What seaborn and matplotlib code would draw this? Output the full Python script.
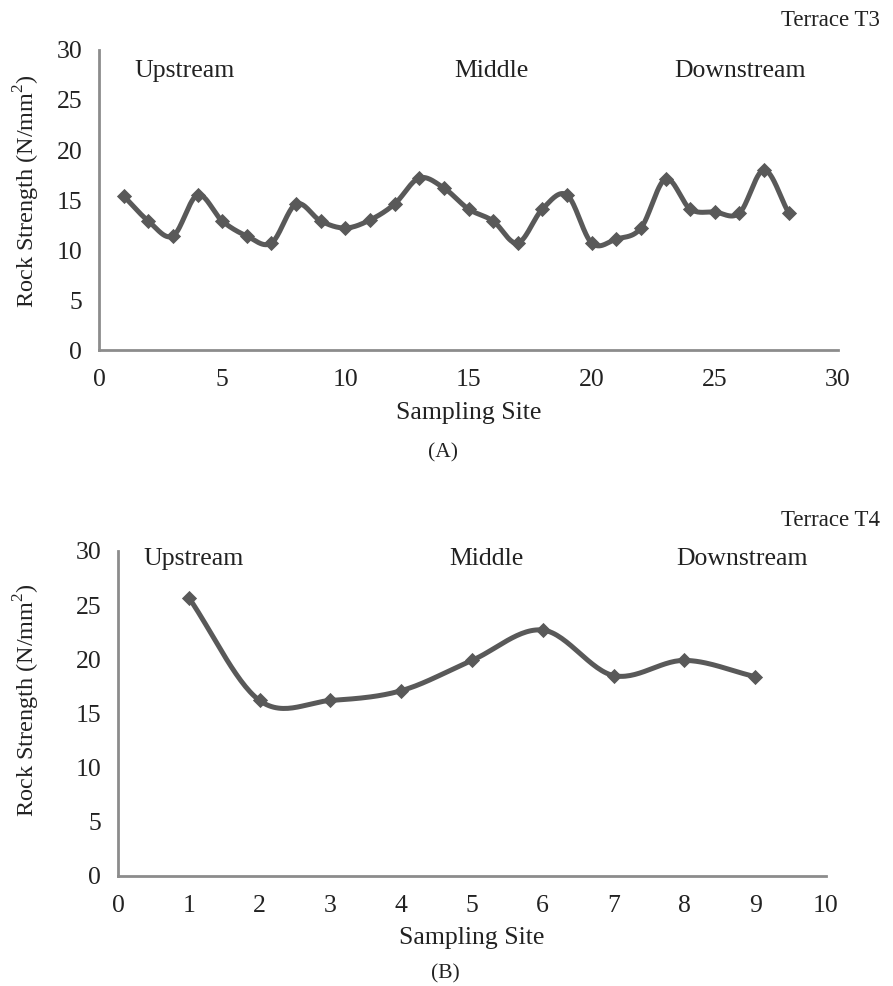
import matplotlib
matplotlib.use("Agg")
import matplotlib.pyplot as plt
import numpy as np
import seaborn as sns

# Terrace T3 (A)
t3_sites = list(range(1, 29))
t3_strength = [15.4, 12.9, 11.4, 15.5, 12.9, 11.4, 10.7, 14.6, 12.9, 12.2,
               13.0, 14.6, 17.2, 16.2, 14.1, 12.9, 10.7, 14.1, 15.5, 10.7,
               11.1, 12.2, 17.1, 14.1, 13.8, 13.7, 18.0, 13.7]

# Terrace T4 (B)
t4_sites = list(range(1, 10))
t4_strength = [25.7, 16.2, 16.2, 17.1, 19.9, 22.7, 18.5, 19.9, 18.4]

reach_labels = ["Upstream", "Middle", "Downstream"]

LINE = "#595959"
AXIS = "#8c8c8c"
TXT = "#222222"


def smooth(x, y, n=30):
    # excel-like smoothed line (catmull-rom through the points)
    x = np.asarray(x, float)
    y = np.asarray(y, float)
    px = np.concatenate([[2 * x[0] - x[1]], x, [2 * x[-1] - x[-2]]])
    py = np.concatenate([[2 * y[0] - y[1]], y, [2 * y[-1] - y[-2]]])
    xs, ys = [], []
    t = np.linspace(0, 1, n, endpoint=False)
    for i in range(1, len(px) - 2):
        for p, out in ((px, xs), (py, ys)):
            p0, p1, p2, p3 = p[i - 1], p[i], p[i + 1], p[i + 2]
            out.extend(0.5 * ((2 * p1) + (-p0 + p2) * t
                              + (2 * p0 - 5 * p1 + 4 * p2 - p3) * t ** 2
                              + (-p0 + 3 * p1 - 3 * p2 + p3) * t ** 3))
    xs.append(x[-1])
    ys.append(y[-1])
    return np.array(xs), np.array(ys)


def draw(ax, sites, vals, xmax, xstep, xlab_y, ylab_x, ylab_y):
    sx, sy = smooth(sites, vals)
    sns.lineplot(x=sx, y=sy, ax=ax, color=LINE, lw=3.6, sort=False, estimator=None)
    sns.scatterplot(x=sites, y=vals, ax=ax, marker="D", s=60, color=LINE,
                    edgecolor=LINE, linewidth=0, zorder=3)
    ax.set_xlim(0, xmax)
    ax.set_ylim(0, 30)
    ax.set_xticks(np.arange(0, xmax + 0.1, xstep))
    ax.set_yticks(np.arange(0, 31, 5))
    for s in ["top", "right"]:
        ax.spines[s].set_visible(False)
    for s in ["left", "bottom"]:
        ax.spines[s].set_color(AXIS)
        ax.spines[s].set_linewidth(2)
    ax.tick_params(length=0, labelsize=18.5, colors=TXT)
    ax.tick_params(axis="x", pad=14)
    ax.tick_params(axis="y", pad=12)
    ax.set_xlabel("Sampling Site", fontsize=18.5, color=TXT, va="center")
    ax.set_ylabel("Rock Strength (N/mm$^2$)", fontsize=17.5, color=TXT, va="center")
    ax.xaxis.set_label_coords(0.5, xlab_y)
    ax.yaxis.set_label_coords(ylab_x, ylab_y)


sns.set_style("white")
plt.rcParams["font.family"] = ["Liberation Serif", "DejaVu Serif"]
plt.rcParams["mathtext.fontset"] = "custom"
plt.rcParams["mathtext.rm"] = "Liberation Serif"

fig = plt.figure(figsize=(8.93, 9.86), dpi=100)

ax1 = fig.add_axes([0.1109, 0.645, 0.8275, 0.3043])
draw(ax1, t3_sites, t3_strength, 30, 5, -0.21, -0.0974, 0.53)

ax2 = fig.add_axes([0.1321, 0.1116, 0.7928, 0.3296])
draw(ax2, t4_sites, t4_strength, 10, 1, -0.19, -0.1285, 0.54)

# reach annotations
for (xc, lab) in zip([185 / 893, 491 / 893, 740 / 893], reach_labels):
    fig.text(xc, 1 - 71 / 986, lab, ha="center", va="center", fontsize=18.5, color=TXT)
for (xc, lab) in zip([194 / 893, 486 / 893, 742 / 893], reach_labels):
    fig.text(xc, 1 - 559 / 986, lab, ha="center", va="center", fontsize=18.5, color=TXT)

fig.text(880 / 893, 1 - 20 / 986, "Terrace T3", ha="right", va="center", fontsize=16.5, color=TXT)
fig.text(880 / 893, 1 - 520 / 986, "Terrace T4", ha="right", va="center", fontsize=16.5, color=TXT)
fig.text(443 / 893, 1 - 453 / 986, "(A)", ha="center", va="center", fontsize=15.5, color=TXT)
fig.text(445 / 893, 1 - 974 / 986, "(B)", ha="center", va="center", fontsize=15.5, color=TXT)

fig.savefig("out.png", dpi=100)
